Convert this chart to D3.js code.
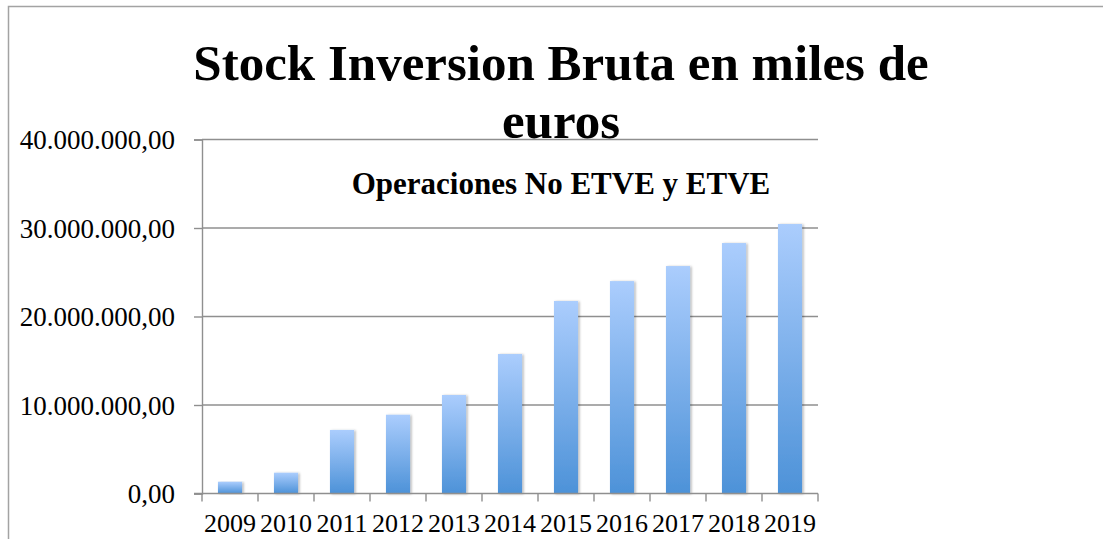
<!DOCTYPE html>
<html>
<head>
<meta charset="utf-8">
<script src="https://cdn.jsdelivr.net/npm/d3@7"></script>
<style>
body{margin:0;background:#fff;}
svg{display:block;}
</style>
</head>
<body>
<svg id="chart" width="1103" height="539"></svg>
<script>
// data (miles de euros)
var years = ['2009','2010','2011','2012','2013','2014','2015','2016','2017','2018','2019'];
var stock = [1330000, 2350000, 7180000, 8900000, 11130000, 15760000, 21750000, 24000000, 25700000, 28300000, 30450000];
var yTicks = [0, 10000000, 20000000, 30000000, 40000000];
var titleLines = ['Stock Inversion Bruta en miles de', 'euros'];
var subTitle = 'Operaciones No ETVE y ETVE';

var svg = d3.select('#chart');
var gray = '#8f8f8f';
var serif = '"Liberation Serif", "Times New Roman", serif';

var plotLeft = 202, plotRight = 818, plotTop = 139.5, plotBottom = 493.5;

// frame (only left and top edges are in view)
svg.append('path')
	.attr('d', 'M8.5,539 L8.5,6.5 L1103,6.5')
	.attr('fill', 'none')
	.attr('stroke', '#a3a3a3')
	.attr('stroke-width', 1.5);

var defs = svg.append('defs');
var grad = defs.append('linearGradient')
	.attr('id', 'barGrad')
	.attr('x1', 0).attr('y1', 0).attr('x2', 0).attr('y2', 1);
grad.append('stop').attr('offset', '0%').attr('stop-color', '#abcdfd');
grad.append('stop').attr('offset', '100%').attr('stop-color', '#4d92d8');

var shadow = defs.append('filter').attr('id', 'shadow')
	.attr('x', '-20%').attr('y', '-5%').attr('width', '150%').attr('height', '115%');
shadow.append('feDropShadow')
	.attr('dx', 1.5).attr('dy', 0.5).attr('stdDeviation', 1)
	.attr('flood-color', '#000').attr('flood-opacity', 0.3);

var x = d3.scaleBand()
	.domain(years)
	.range([plotLeft, plotRight])
	.paddingInner(0.57)
	.paddingOuter(0.285);

var y = d3.scaleLinear()
	.domain([0, 40000000])
	.range([plotBottom, plotTop]);

// 40.000.000,00 style
var fmt = function(v){
	return d3.format(',.2f')(v).replace(/,/g, '#').replace('.', ',').replace(/#/g, '.');
};

// gridlines
svg.append('g').selectAll('line').data(yTicks.slice(1)).enter()
	.append('line')
		.attr('x1', plotLeft).attr('x2', plotRight)
		.attr('y1', function(d){return y(d)})
		.attr('y2', function(d){return y(d)})
		.attr('stroke', gray)
		.attr('stroke-width', 1.4);

// bars
svg.append('g').selectAll('rect').data(stock).enter()
	.append('rect')
		.attr('x', function(d, i){return x(years[i])})
		.attr('y', function(d){return y(d)})
		.attr('width', x.bandwidth())
		.attr('height', function(d){return y(0) - y(d)})
		.attr('fill', 'url(#barGrad)')
		.attr('filter', 'url(#shadow)');

// y axis
var yAxis = svg.append('g')
	.attr('transform', 'translate(' + plotLeft + ',0)')
	.call(d3.axisLeft(y).tickValues(yTicks).tickFormat(fmt).tickSize(8).tickPadding(19));
yAxis.select('.domain').attr('stroke', gray).attr('stroke-width', 1.4);
yAxis.selectAll('.tick line').attr('stroke', gray).attr('stroke-width', 1.4);
yAxis.selectAll('.tick text')
	.attr('fill', '#000')
	.style('font-family', serif)
	.style('font-size', '27px')
	.attr('dy', '0.34em');

// x axis: ticks sit between categories
var xAxis = svg.append('g')
	.attr('transform', 'translate(0,' + plotBottom + ')');
xAxis.append('line')
	.attr('x1', plotLeft - 8).attr('x2', plotRight)
	.attr('stroke', gray).attr('stroke-width', 1.4);
xAxis.selectAll('line.tk').data(d3.range(years.length + 1)).enter()
	.append('line')
		.attr('class', 'tk')
		.attr('x1', function(i){return plotLeft + i * x.step()})
		.attr('x2', function(i){return plotLeft + i * x.step()})
		.attr('y1', 0).attr('y2', 8)
		.attr('stroke', gray).attr('stroke-width', 1.4);
xAxis.selectAll('text').data(years).enter()
	.append('text')
		.attr('x', function(d){return x(d) + x.bandwidth() / 2})
		.attr('y', 38)
		.attr('text-anchor', 'middle')
		.style('font-family', serif)
		.style('font-size', '26px')
		.text(function(d){return d});

// titles
svg.append('g').selectAll('text').data(titleLines).enter()
	.append('text')
		.attr('x', 561)
		.attr('y', function(d, i){return 80 + i * 58})
		.attr('text-anchor', 'middle')
		.style('font-family', serif)
		.style('font-weight', 'bold')
		.style('font-size', '51px')
		.text(function(d){return d});

svg.append('text')
	.attr('x', 561)
	.attr('y', 194)
	.attr('text-anchor', 'middle')
	.style('font-family', serif)
	.style('font-weight', 'bold')
	.style('font-size', '31px')
	.text(subTitle);
</script>
</body>
</html>
